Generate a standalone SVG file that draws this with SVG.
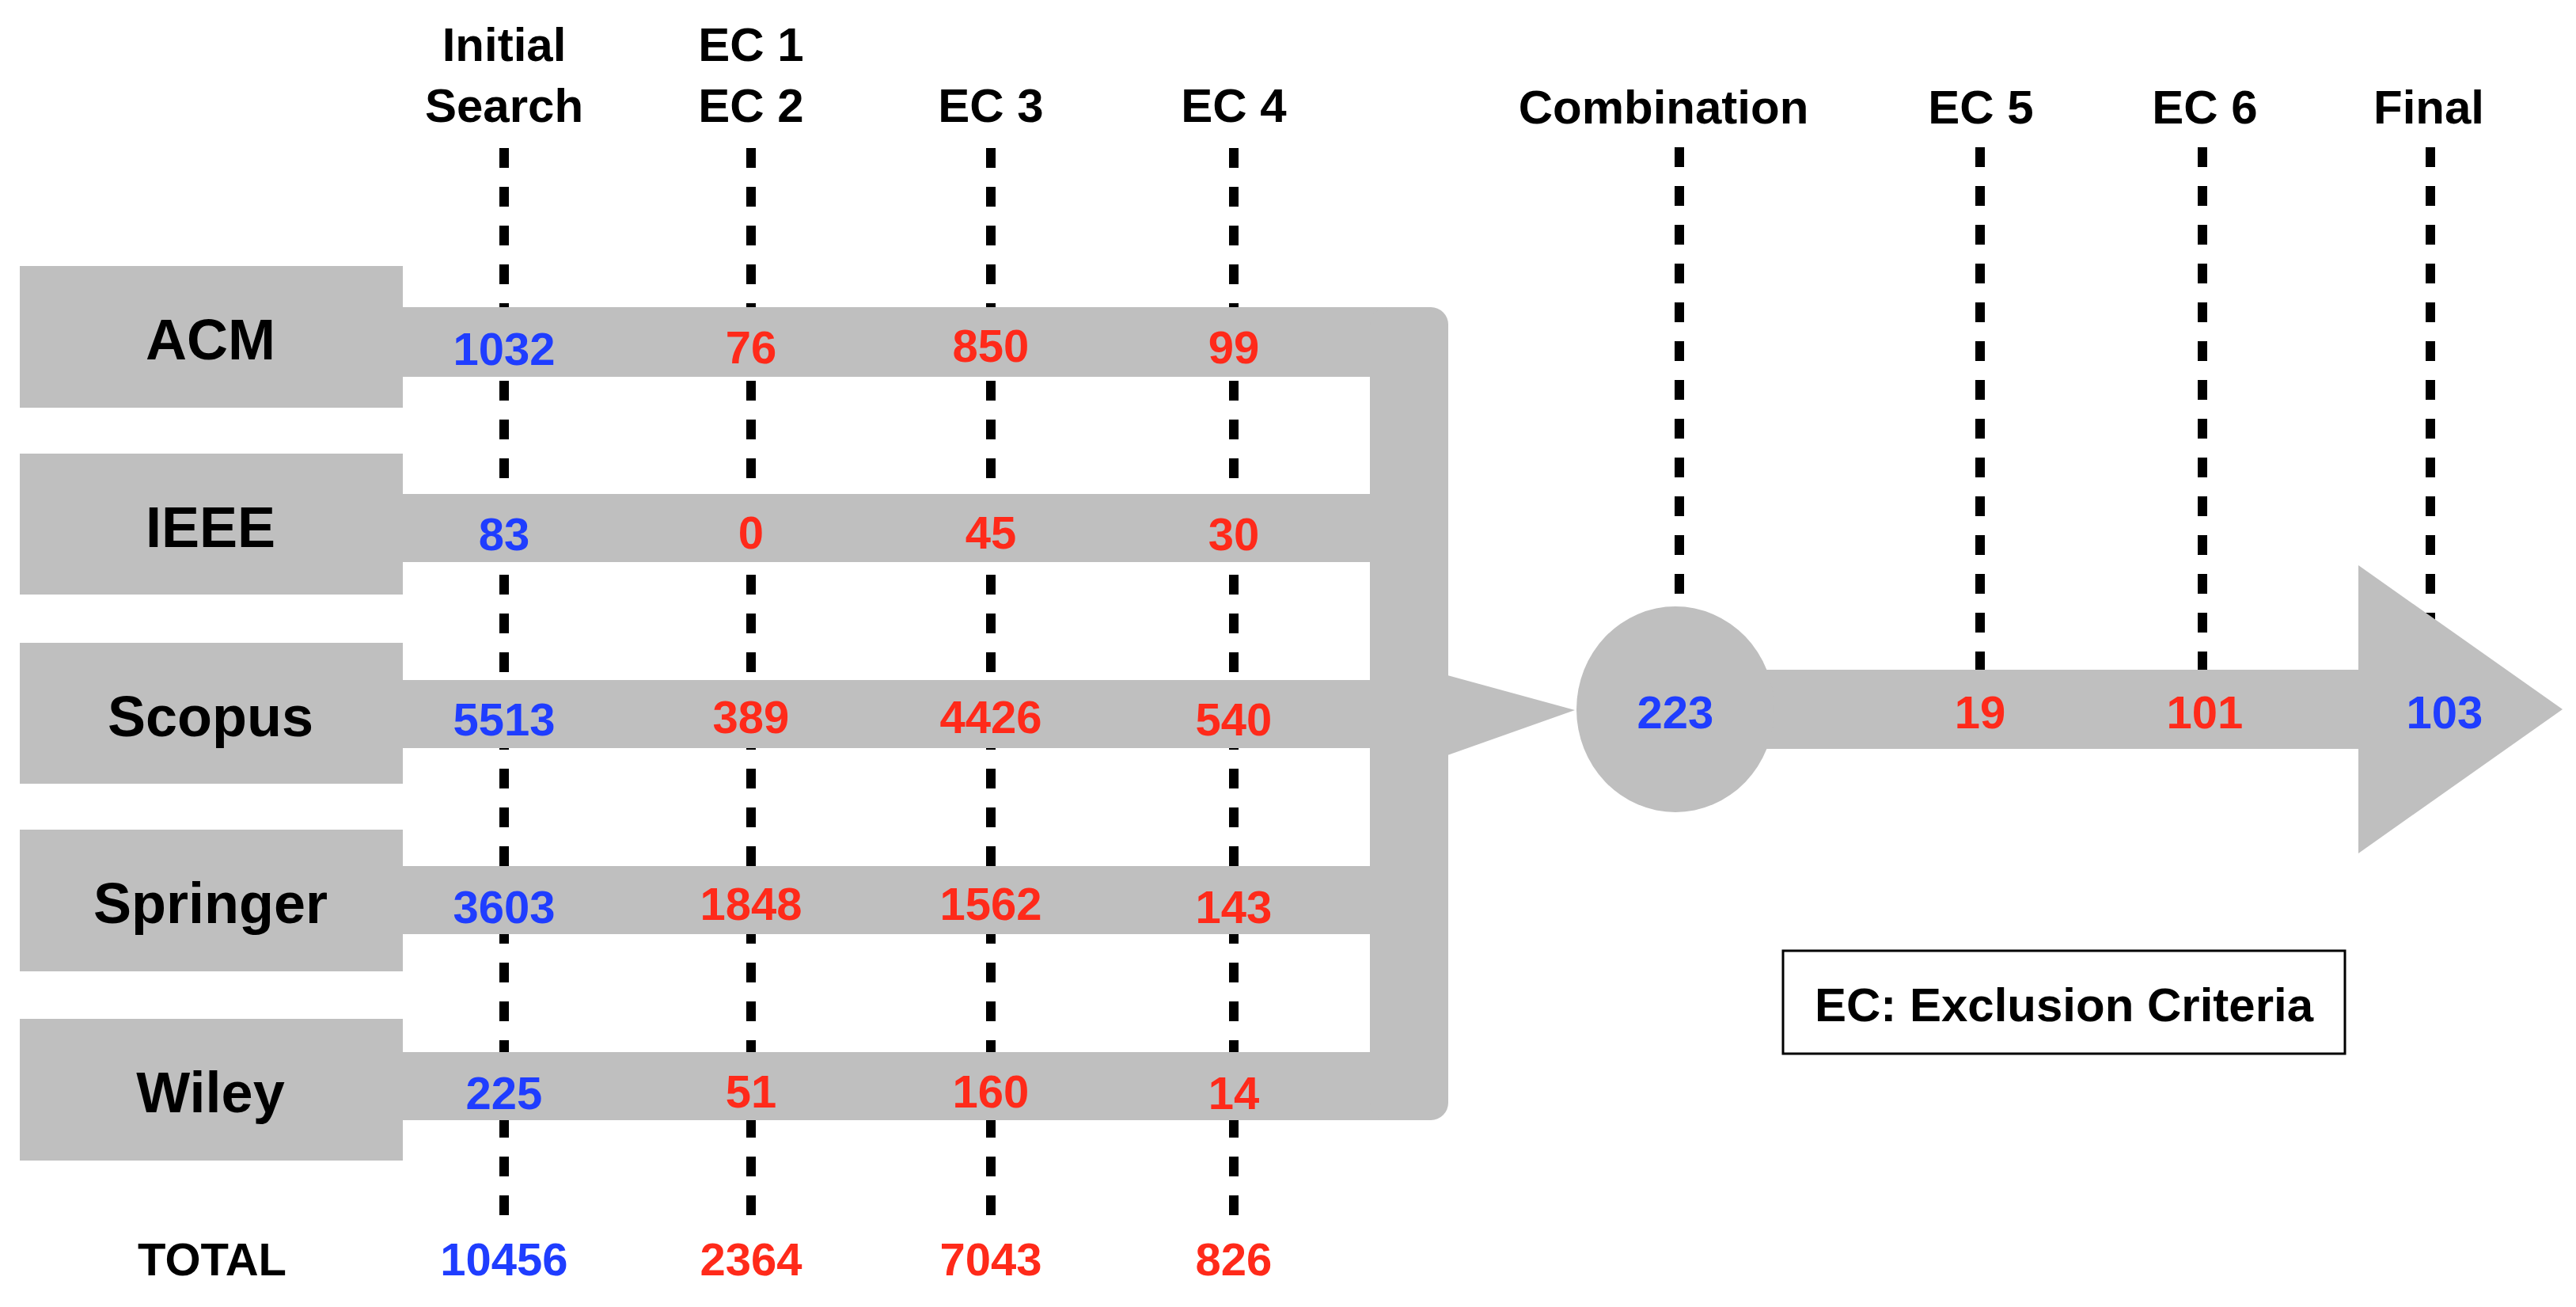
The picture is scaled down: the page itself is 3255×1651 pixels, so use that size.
<svg xmlns="http://www.w3.org/2000/svg" width="3255" height="1651" viewBox="0 0 3255 1651">
<style>
text{font-family:"Liberation Sans",Arial,sans-serif;font-weight:bold;text-anchor:middle}
.h{font-size:60px;fill:#000}
.src{font-size:72px;fill:#000}
.n{font-size:58px}
.b{fill:#1f3dff}
.r{fill:#ff2a1a}
.g{fill:#bfbfbf}
.d{stroke:#000;stroke-width:12;stroke-dasharray:25 24;fill:none}
</style>
<g id="connectors">
<line class="d" x1="637" y1="187" x2="637" y2="1536"/>
<line class="d" x1="949" y1="187" x2="949" y2="1536"/>
<line class="d" x1="1252" y1="187" x2="1252" y2="1536"/>
<line class="d" x1="1559" y1="187" x2="1559" y2="1536"/>
<line class="d" x1="2122" y1="186" x2="2122" y2="760"/>
<line class="d" x1="2502" y1="186" x2="2502" y2="850"/>
<line class="d" x1="2783" y1="186" x2="2783" y2="850"/>
<line class="d" x1="3071" y1="186" x2="3071" y2="790"/>
<rect class="g" x="509" y="388" width="1250" height="88"/>
<rect class="g" x="509" y="624" width="1250" height="86"/>
<rect class="g" x="509" y="859" width="1250" height="86"/>
<rect class="g" x="509" y="1094" width="1250" height="86"/>
<rect class="g" x="509" y="1329" width="1250" height="86"/>
<rect class="g" x="1731" y="388" width="99" height="1027" rx="22"/>
<polygon class="g" points="1829,853 1990,897 1829,954"/>
<rect class="g" x="2117" y="846" width="870" height="100"/>
<polygon class="g" points="2980,714 3238,896 2980,1078"/>
</g>
<g id="headers">
<text class="h" x="637" y="77">Initial</text>
<text class="h" x="637" y="154">Search</text>
<text class="h" x="949" y="77">EC 1</text>
<text class="h" x="949" y="154">EC 2</text>
<text class="h" x="1252" y="154">EC 3</text>
<text class="h" x="1559" y="154">EC 4</text>
<text class="h" x="2102" y="156">Combination</text>
<text class="h" x="2503" y="156">EC 5</text>
<text class="h" x="2786" y="156">EC 6</text>
<text class="h" x="3069" y="156">Final</text>
</g>
<g id="acm"><rect class="g" x="25" y="336" width="484" height="179"/><text class="src" x="266" y="454">ACM</text></g>
<g id="ieee"><rect class="g" x="25" y="573" width="484" height="178"/><text class="src" x="266" y="691">IEEE</text></g>
<g id="scopus"><rect class="g" x="25" y="812" width="484" height="178"/><text class="src" x="266" y="930">Scopus</text></g>
<g id="springer"><rect class="g" x="25" y="1048" width="484" height="179"/><text class="src" x="266" y="1166">Springer</text></g>
<g id="wiley"><rect class="g" x="25" y="1287" width="484" height="179"/><text class="src" x="266" y="1405">Wiley</text></g>
<g id="numbers">
<text class="n b" x="637" y="461">1032</text><text class="n r" x="949" y="459">76</text><text class="n r" x="1252" y="457">850</text><text class="n r" x="1559" y="459">99</text>
<text class="n b" x="637" y="695">83</text><text class="n r" x="949" y="693">0</text><text class="n r" x="1252" y="693">45</text><text class="n r" x="1559" y="695">30</text>
<text class="n b" x="637" y="929">5513</text><text class="n r" x="949" y="926">389</text><text class="n r" x="1252" y="926">4426</text><text class="n r" x="1559" y="929">540</text>
<text class="n b" x="637" y="1166">3603</text><text class="n r" x="949" y="1162">1848</text><text class="n r" x="1252" y="1162">1562</text><text class="n r" x="1559" y="1166">143</text>
<text class="n b" x="637" y="1401">225</text><text class="n r" x="949" y="1399">51</text><text class="n r" x="1252" y="1399">160</text><text class="n r" x="1559" y="1401">14</text>
</g>
<g id="totals">
<text class="n" x="268" y="1611" fill="#000">TOTAL</text>
<text class="n b" x="637" y="1611">10456</text><text class="n r" x="949" y="1611">2364</text><text class="n r" x="1252" y="1611">7043</text><text class="n r" x="1559" y="1611">826</text>
</g>
<g id="combination"><ellipse class="g" cx="2117" cy="896" rx="125" ry="130"/><text class="n b" x="2117" y="920">223</text></g>
<g id="flow">
<text class="n r" x="2502" y="920">19</text>
<text class="n r" x="2786" y="920">101</text>
<text class="n b" x="3089" y="920">103</text>
</g>
<g id="legend"><rect x="2253" y="1201" width="710" height="130" fill="#fff" stroke="#000" stroke-width="3"/><text class="h" x="2608" y="1290">EC: Exclusion Criteria</text></g>
</svg>
